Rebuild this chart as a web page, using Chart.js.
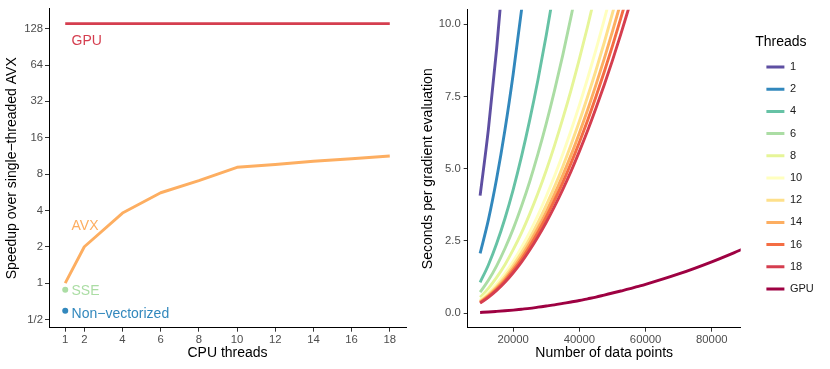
<!DOCTYPE html>
<html><head><meta charset="utf-8">
<script src="https://cdn.jsdelivr.net/npm/chart.js@4/dist/chart.umd.min.js"></script>
<style>
html,body{margin:0;padding:0;background:#fff;width:830px;height:369px;overflow:hidden}
#left{position:absolute;left:0;top:0}
#right{position:absolute;left:410px;top:0}
</style></head><body>
<canvas id="left" width="410" height="369"></canvas>
<canvas id="right" width="420" height="369"></canvas>
<script>
// ---------- Left panel data ----------
const cpuThreads = [1, 2, 4, 6, 8, 10, 12, 14, 16, 18];
const avxSpeedup = [1.0, 2.0, 3.8, 5.6, 7.05, 9.1, 9.6, 10.2, 10.7, 11.3];
const gpuThreadSpan = [1, 18];
const gpuSpeedup = [141, 141];
const sseThreads = [1];
const sseSpeedup = [0.88];
const nonVecThreads = [1];
const nonVecSpeedup = [0.59];
const leftXTicks = [1, 2, 4, 6, 8, 10, 12, 14, 16, 18];
const leftXTickLabels = ['1', '2', '4', '6', '8', '10', '12', '14', '16', '18'];
const leftYTicks = [0.5, 1, 2, 4, 8, 16, 32, 64, 128];
const leftYTickLabels = ['1/2', '1', '2', '4', '8', '16', '32', '64', '128'];
const annotationTexts = ['GPU', 'AVX', 'SSE', 'Non\u2212vectorized'];
const annotationX = [1.33, 1.33, 1.33, 1.33];
const annotationY = [100, 2.98, 0.85, 0.552];

// ---------- Right panel data ----------
const dataPoints = [10000, 12500, 15000, 17500, 20000, 22500, 25000, 27500, 30000, 32500, 35000, 37500,
  40000, 42500, 45000, 47500, 50000, 52500, 55000, 57500, 60000, 70000, 80000, 90000];
const threadLabels = ['1', '2', '4', '6', '8', '10', '12', '14', '16', '18', 'GPU'];
const secs1 = [4.07, 6.36, 9.16, 12.46];
const secs2 = [2.07, 3.23, 4.66, 6.34, 8.28, 10.48, 12.94];
const secs4 = [1.07, 1.67, 2.41, 3.28, 4.28, 5.42, 6.69, 8.09, 9.63, 11.30];
const secs6 = [0.73, 1.14, 1.64, 2.24, 2.92, 3.70, 4.56, 5.52, 6.57, 7.71, 8.94, 10.27, 11.68];
const secs8 = [0.55, 0.86, 1.24, 1.68, 2.20, 2.78, 3.44, 4.16, 4.95, 5.81, 6.74, 7.73, 8.80, 9.93, 11.14];
const secs10 = [0.45, 0.70, 1.01, 1.38, 1.80, 2.28, 2.81, 3.40, 4.05, 4.75, 5.51, 6.33, 7.20, 8.13, 9.11, 10.15, 11.25];
const secs12 = [0.415, 0.65, 0.93, 1.27, 1.66, 2.10, 2.59, 3.14, 3.74, 4.38, 5.08, 5.84, 6.64, 7.50, 8.40, 9.36, 10.38, 11.44];
const secs14 = [0.39, 0.61, 0.88, 1.19, 1.56, 1.97, 2.44, 2.95, 3.51, 4.12, 4.78, 5.48, 6.24, 7.04, 7.90, 8.80, 9.75, 10.75];
const secs16 = [0.37, 0.58, 0.83, 1.13, 1.48, 1.87, 2.31, 2.80, 3.33, 3.91, 4.53, 5.20, 5.92, 6.68, 7.49, 8.35, 9.25, 10.20, 11.19];
const secs18 = [0.35, 0.55, 0.79, 1.07, 1.40, 1.77, 2.19, 2.65, 3.15, 3.70, 4.29, 4.92, 5.60, 6.32, 7.09, 7.90, 8.75, 9.65, 10.59];
const secsGPU = [0.028, 0.043, 0.063, 0.085, 0.11, 0.14, 0.17, 0.21, 0.25, 0.29, 0.34, 0.39, 0.44, 0.50,
  0.56, 0.63, 0.70, 0.77, 0.84, 0.92, 1.00, 1.36, 1.78, 2.25];
const rightXTicks = [20000, 40000, 60000, 80000];
const rightXTickLabels = ['20000', '40000', '60000', '80000'];
const rightYTicks = [0, 2.5, 5, 7.5, 10];
const rightYTickLabels = ['0.0', '2.5', '5.0', '7.5', '10.0'];

// ---------- Styles ----------
const FONT = '"Liberation Sans", Arial, sans-serif';
const spectral = ['#5e4fa2', '#3288bd', '#66c2a5', '#abdda4', '#e6f598', '#ffffbf', '#fee08b', '#fdae61', '#f46d43', '#d53e4f', '#9e0142'];
const annotationColors = ['#d53e4f', '#fdae61', '#abdda4', '#3288bd'];
const LW = 2.9;

Chart.defaults.font.family = FONT;
Chart.defaults.color = '#4d4d4d';
Chart.defaults.animation = false;

const pts = (xs, ys) => ys.map((v, i) => ({x: xs[i], y: v}));

const axisGrid = {display: true, drawOnChartArea: false, drawTicks: true, tickLength: 4, color: '#333', lineWidth: 1};
const axisBorder = {display: true, color: '#000', width: 1};

const annotPlugin = {
  id: 'annot',
  afterDatasetsDraw(chart) {
    const {ctx, scales: {x, y}} = chart;
    ctx.save();
    ctx.font = '14px ' + FONT;
    ctx.textAlign = 'left';
    ctx.textBaseline = 'middle';
    annotationTexts.forEach((t, i) => {
      ctx.fillStyle = annotationColors[i];
      ctx.fillText(t, x.getPixelForValue(annotationX[i]), y.getPixelForValue(annotationY[i]));
    });
    ctx.restore();
  }
};

new Chart(document.getElementById('left'), {
  type: 'line',
  data: {
    datasets: [
      {label: 'GPU', data: pts(gpuThreadSpan, gpuSpeedup), borderColor: '#d53e4f', backgroundColor: '#d53e4f', borderWidth: LW, pointRadius: 0},
      {label: 'AVX', data: pts(cpuThreads, avxSpeedup), borderColor: '#fdae61', backgroundColor: '#fdae61', borderWidth: LW, pointRadius: 0, borderJoinStyle: 'round'},
      {label: 'SSE', data: pts(sseThreads, sseSpeedup), showLine: false, pointRadius: 3, pointBorderWidth: 0, pointBackgroundColor: '#abdda4', borderColor: '#abdda4'},
      {label: 'Non-vectorized', data: pts(nonVecThreads, nonVecSpeedup), showLine: false, pointRadius: 3, pointBorderWidth: 0, pointBackgroundColor: '#3288bd', borderColor: '#3288bd'}
    ]
  },
  options: {
    responsive: false,
    layout: {padding: {top: 7, right: 3, left: 0, bottom: 0}},
    plugins: {legend: {display: false}, tooltip: {enabled: false}},
    scales: {
      x: {
        type: 'linear', min: 0.15, max: 18.85,
        afterBuildTicks: s => { s.ticks = leftXTicks.map(v => ({value: v})); },
        afterFit: s => { s.height = 41.3; },
        ticks: {autoSkip: false, maxRotation: 0, padding: 1, color: '#4d4d4d', font: {size: 11.3}, callback: (v, i) => leftXTickLabels[i]},
        grid: axisGrid, border: axisBorder,
        title: {display: true, text: 'CPU threads', color: '#000', font: {size: 14}, padding: {top: 0, bottom: 7.1}}
      },
      y: {
        type: 'logarithmic', min: 0.427, max: 187,
        afterBuildTicks: s => { s.ticks = leftYTicks.map(v => ({value: v})); },
        afterFit: s => { s.width = 49; },
        ticks: {autoSkip: false, padding: 2, color: '#4d4d4d', font: {size: 11.3}, callback: (v, i) => leftYTickLabels[i]},
        grid: axisGrid, border: axisBorder,
        title: {display: true, text: 'Speedup over single\u2212threaded AVX', color: '#000', font: {size: 14}, padding: {top: 3.6, bottom: 0}}
      }
    }
  },
  plugins: [annotPlugin]
});

const legendFix = {
  id: 'legendFix',
  beforeLayout(chart) {
    const lg = chart.legend;
    if (lg && !lg._fixed) {
      const f = lg.fit.bind(lg);
      lg.fit = function () { f(); this.width = 89.3; };
      lg._fixed = true;
    }
  },
  afterLayout(chart) {
    const lg = chart.legend;
    if (lg) { lg.left += 14.5; lg.right += 14.5; }
  }
};

const seriesValues = [secs1, secs2, secs4, secs6, secs8, secs10, secs12, secs14, secs16, secs18, secsGPU];

new Chart(document.getElementById('right'), {
  type: 'line',
  data: {
    datasets: seriesValues.map((vals, i) => ({
      label: threadLabels[i],
      data: pts(dataPoints, vals),
      borderColor: spectral[i],
      backgroundColor: spectral[i],
      borderWidth: LW,
      pointRadius: 0,
      cubicInterpolationMode: 'monotone',
      clip: 0,
      order: -i
    }))
  },
  options: {
    responsive: false,
    layout: {padding: {top: 7, right: 0, left: 0, bottom: 0}},
    plugins: {
      tooltip: {enabled: false},
      legend: {
        display: true, position: 'right', align: 'start',
        title: {display: true, text: 'Threads', color: '#000', font: {size: 14}, position: 'start', padding: {top: 28, bottom: -1.5}},
        labels: {
          boxWidth: 18, boxHeight: 3, padding: 11.2, color: '#1a1a1a', font: {size: 11},
          sort: (a, b) => a.datasetIndex - b.datasetIndex,
          generateLabels: chart => Chart.defaults.plugins.legend.labels.generateLabels(chart).map(it => {
            it.lineWidth = 0; it.fillStyle = it.strokeStyle; return it;
          })
        }
      }
    },
    scales: {
      x: {
        type: 'linear', min: 6250, max: 88750,
        afterBuildTicks: s => { s.ticks = rightXTicks.map(v => ({value: v})); },
        afterFit: s => { s.height = 41.3; },
        ticks: {autoSkip: false, maxRotation: 0, padding: 1, color: '#4d4d4d', font: {size: 11.3}, callback: (v, i) => rightXTickLabels[i]},
        grid: axisGrid, border: axisBorder,
        title: {display: true, text: 'Number of data points', color: '#000', font: {size: 14}, padding: {top: 0, bottom: 7.1}}
      },
      y: {
        type: 'linear', min: -0.5, max: 10.5,
        afterBuildTicks: s => { s.ticks = rightYTicks.map(v => ({value: v})); },
        afterFit: s => { s.width = 57.7; },
        ticks: {autoSkip: false, padding: 3, color: '#4d4d4d', font: {size: 11.3}, callback: (v, i) => rightYTickLabels[i]},
        grid: axisGrid, border: axisBorder,
        title: {display: true, text: 'Seconds per gradient evaluation', color: '#000', font: {size: 14}, padding: {top: 9.3, bottom: 0}}
      }
    }
  },
  plugins: [legendFix]
});
</script>
</body></html>
